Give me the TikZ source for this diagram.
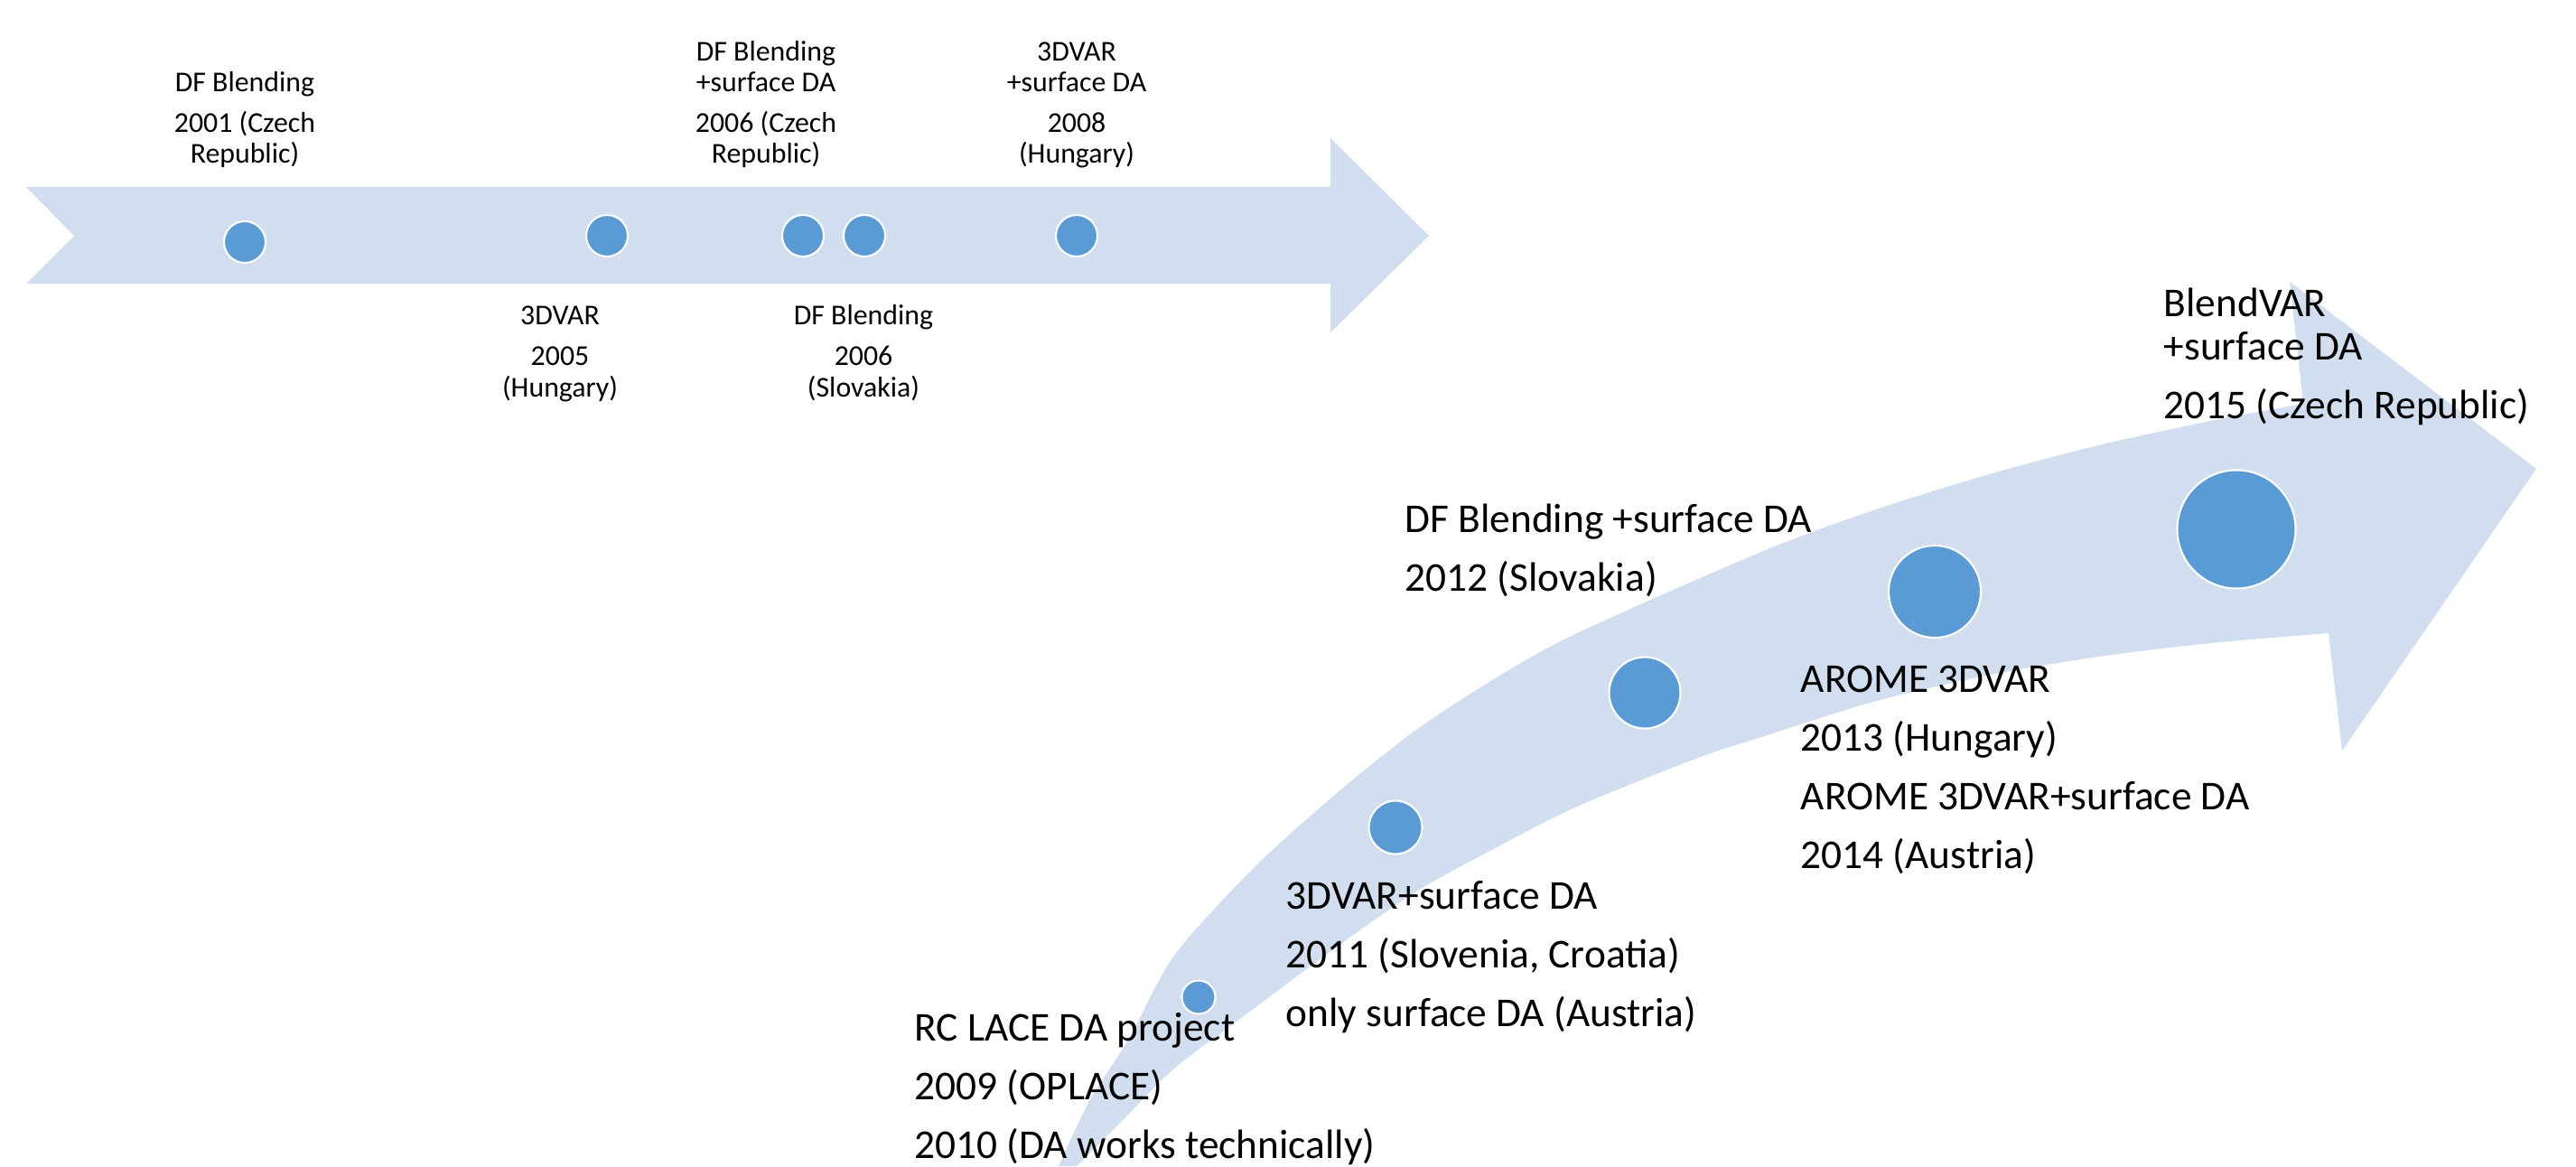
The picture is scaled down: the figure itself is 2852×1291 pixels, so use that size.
\documentclass[tikz,border=0pt]{standalone}
\usepackage{fontspec}
\setmainfont{Carlito}
\definecolor{bandblue}{HTML}{D0DEEF}
\definecolor{dotblue}{HTML}{5B9BD5}
\begin{document}
\begin{tikzpicture}[
  x=0.01cm, y=-0.01cm,
  dot/.style   = {circle, draw=white, line width=0.6pt, fill=dotblue, inner sep=0pt},
  small/.style = {align=center, anchor=base, inner sep=0pt, font=\fontsize{9.05}{9.7}\selectfont},
  big/.style   = {align=left, anchor=base west, inner sep=0pt, font=\fontsize{12.9}{13.7}\selectfont},
]
\useasboundingbox (0,0) rectangle (2852,1291);
% ── Straight timeline arrow (2001--2008) ─────────────────────────────────────
\fill[bandblue] (29,207) -- (1473,207) -- (1473,153) -- (1582,261) -- (1473,368)
  -- (1473,314) -- (29,314) -- (82,261) -- cycle;

\foreach \n/\x/\y in {1/271/268, 2/672/261, 3/889/261, 4/957/261, 5/1192/261}
  \node[dot, minimum size=0.46cm] (t\n) at (\x,\y) {};

% labels sit on the baseline of their last line
\node[small] (l2001)   at (271,181)  {DF Blending\\[3.1pt]2001 (Czech\\Republic)};
\node[small] (l2006cz) at (848,181)  {DF Blending\\+surface DA\\[3.1pt]2006 (Czech\\Republic)};
\node[small] (l2008)   at (1192,181) {3DVAR\\+surface DA\\[3.1pt]2008\\(Hungary)};
\node[small] (l2005)   at (620,439)  {3DVAR\\[3.1pt]2005\\(Hungary)};
\node[small] (l2006sk) at (956,439)  {DF Blending\\[3.1pt]2006\\(Slovakia)};

% ── Curved arrow (2009--2015) ────────────────────────────────────────────────
\fill[bandblue]
  plot[smooth] coordinates {(1172,1291) (1207,1217) (1250,1150) (1300,1058) (1389,960)
    (1479,879) (1568,808) (1657,750) (1746,701) (1950,611) (2074,565) (2199,526)
    (2323,493) (2448,466) (2550,447)}
  -- (2535,312) -- (2808,519) -- (2593,831) -- (2578,701)
  -- plot[smooth] coordinates {(2578,701) (2448,712) (2323,727) (2199,748) (2074,777)
    (1950,816) (1880,839) (1746,893) (1657,938) (1568,987) (1479,1049) (1389,1116)
    (1300,1183) (1245,1238) (1192,1291)}
  -- cycle;

\foreach \n/\x/\y/\d in {1/1327/1104/0.37, 2/1545/916/0.59, 3/1821/767/0.79,
                          4/2142/655/1.02, 5/2476/586/1.31}
  \node[dot, minimum size=\d cm] (c\n) at (\x,\y) {};

\node[big] (l2009) at (1012,1282) {RC LACE DA project\\[4.7pt]2009 (OPLACE)\\[4.7pt]2010 (DA works technically)};
\node[big] (l2011) at (1423,1136) {3DVAR+surface DA\\[4.7pt]2011 (Slovenia, Croatia)\\[4.7pt]only surface DA (Austria)};
\node[big] (l2012) at (1555,654)  {DF Blending +surface DA\\[4.7pt]2012 (Slovakia)};
\node[big] (l2013) at (1993,961)  {AROME 3DVAR\\[4.7pt]2013 (Hungary)\\[4.7pt]AROME 3DVAR+surface DA\\[4.7pt]2014 (Austria)};
\node[big] (l2015) at (2395,463)  {BlendVAR\\+surface DA\\[4.7pt]2015 (Czech Republic)};
\end{tikzpicture}
\end{document}
